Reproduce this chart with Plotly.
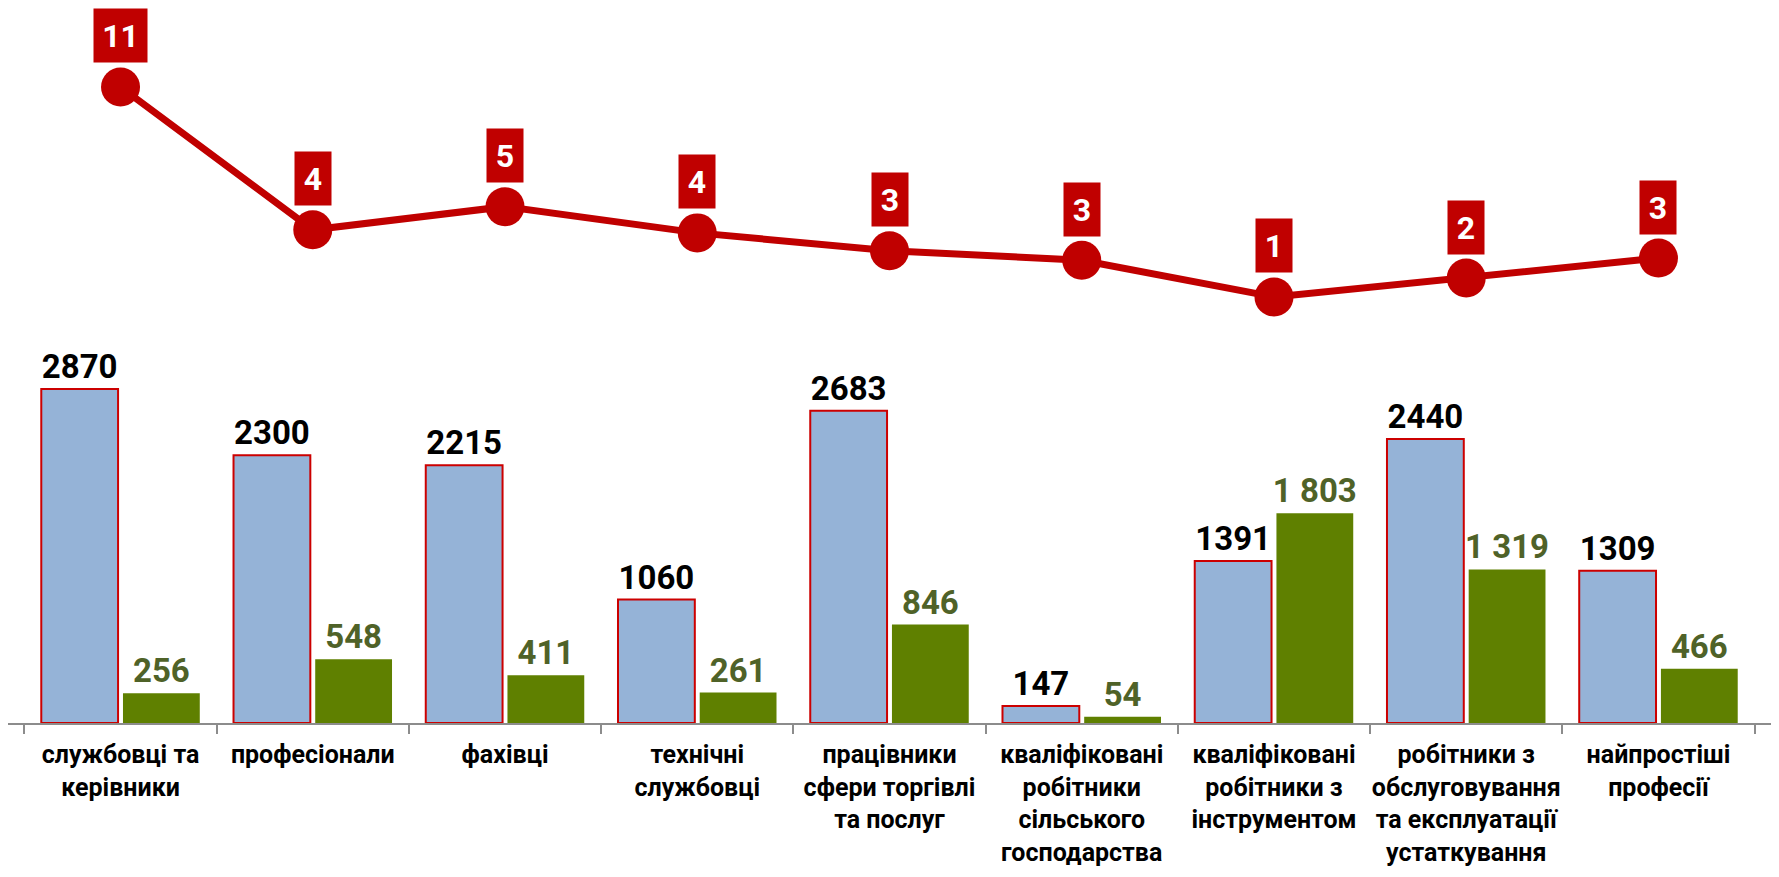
import plotly.graph_objects as go

categories = [
    "службовці та<br>керівники",
    "професіонали",
    "фахівці",
    "технічні<br>службовці",
    "працівники<br>сфери торгівлі<br>та послуг",
    "кваліфіковані<br>робітники<br>сільського<br>господарства",
    "кваліфіковані<br>робітники з<br>інструментом",
    "робітники з<br>обслуговування<br>та експлуатації<br>устаткування",
    "найпростіші<br>професії",
]
blue_values = [2870, 2300, 2215, 1060, 2683, 147, 1391, 2440, 1309]
green_values = [256, 548, 411, 261, 846, 54, 1803, 1319, 466]
line_values = [11.0, 4.2, 5.3, 4.05, 3.2, 2.75, 1.0, 1.9, 2.85]

FONT = "Roboto, 'Open Sans', sans-serif"
RED = "#C00000"

blue_text = [str(v) for v in blue_values]
green_text = [f"{v:,}".replace(",", " ") for v in green_values]
line_text = [f"{v:.0f}" for v in line_values]

fig = go.Figure()
fig.add_trace(go.Bar(
    x=categories, y=blue_values, text=blue_text, textposition="outside",
    constraintext="none", cliponaxis=False,
    textfont=dict(family=FONT, size=33, color="#000000", weight="bold"),
    marker=dict(color="#95B3D7", line=dict(color="#CC0000", width=2)),
    showlegend=False,
))
fig.add_trace(go.Bar(
    x=categories, y=green_values, text=green_text, textposition="outside",
    constraintext="none", cliponaxis=False,
    textfont=dict(family=FONT, size=33, color="#4F6228", weight="bold"),
    marker=dict(color="#5F8000", line=dict(color="#5F8000", width=0)),
    showlegend=False,
))
fig.add_trace(go.Scatter(
    x=categories, y=line_values, yaxis="y2", mode="lines+markers",
    line=dict(color=RED, width=7),
    marker=dict(color=RED, size=39),
    cliponaxis=False, showlegend=False,
))

for c, v, t in zip(categories, line_values, line_text):
    fig.add_annotation(
        x=c, y=v, xref="x", yref="y2", text=t, showarrow=False,
        yshift=51, bgcolor=RED, width=17 * len(t) + 13, height=47,
        font=dict(family=FONT, size=32, color="#FFFFFF", weight="bold"),
        borderpad=3,
    )

fig.update_layout(
    width=1763, height=861,
    margin=dict(l=0, r=0, t=0, b=146, autoexpand=False),
    paper_bgcolor="white", plot_bgcolor="white",
    barmode="group", bargap=0.15, bargroupgap=0.06,
    xaxis=dict(
        type="category", tickson="boundaries", ticks="outside", ticklen=9,
        tickcolor="#8C8C8C", tickwidth=2, showline=True, linecolor="#8C8C8C",
        linewidth=2, showgrid=False, ticklabelstandoff=8, automargin=False,
        tickangle=0,
        tickfont=dict(family=FONT, size=25, color="#000000", weight="bold"),
    ),
    yaxis=dict(range=[0, 6143], visible=False, showgrid=False, automargin=False),
    yaxis2=dict(range=[-19.29, 14.76], overlaying="y", visible=False,
                showgrid=False, automargin=False),
)

fig.write_html("out.html")
